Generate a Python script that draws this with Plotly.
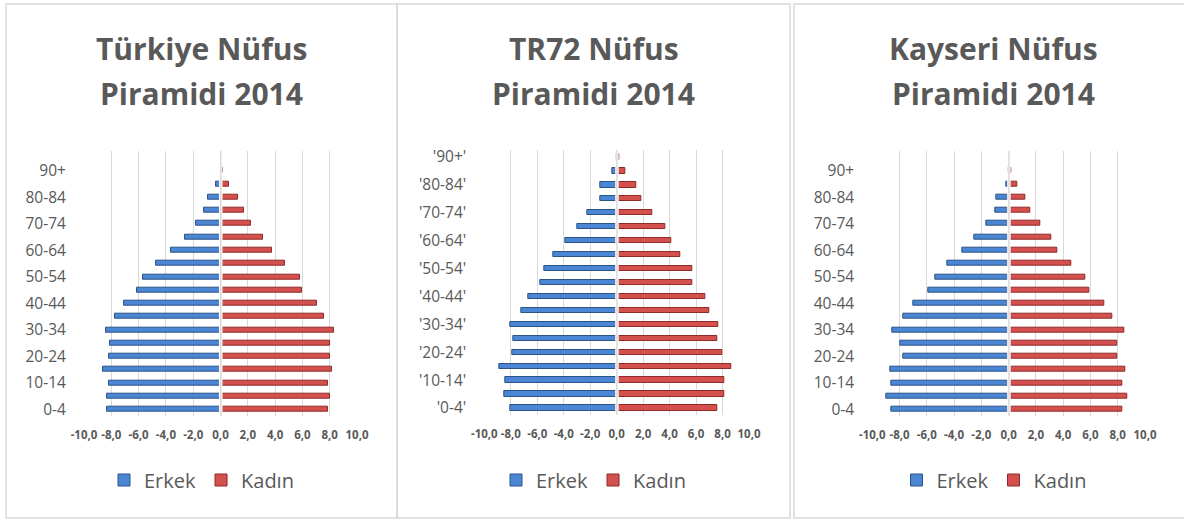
import plotly.graph_objects as go

W, H = 1184, 519

age_groups = ["0-4", "5-9", "10-14", "15-19", "20-24", "25-29", "30-34", "35-39",
              "40-44", "45-49", "50-54", "55-59", "60-64", "65-69", "70-74",
              "75-79", "80-84", "85-89", "90+"]
age_groups_q = ["'" + a + "'" for a in age_groups]

title_line1 = ["Türkiye Nüfus", "TR72 Nüfus", "Kayseri Nüfus"]
title_line2 = ["Piramidi 2014", "Piramidi 2014", "Piramidi 2014"]

# Values (% of population), ordered 0-4 ... 90+
tr_erkek = [-8.3, -8.3, -8.2, -8.6, -8.2, -8.1, -8.4, -7.7, -7.1, -6.1, -5.7, -4.7, -3.6, -2.6, -1.8, -1.2, -0.9, -0.3, -0.05]
tr_kadin = [7.9, 8.0, 7.9, 8.2, 8.0, 8.0, 8.3, 7.6, 7.1, 6.0, 5.8, 4.7, 3.8, 3.1, 2.2, 1.7, 1.3, 0.65, 0.2]
tr72_erkek = [-8.0, -8.5, -8.4, -8.9, -7.9, -7.8, -8.0, -7.2, -6.7, -5.8, -5.5, -4.8, -3.9, -3.0, -2.2, -1.2, -1.2, -0.3, -0.05]
tr72_kadin = [7.6, 8.1, 8.1, 8.7, 8.0, 7.6, 7.7, 7.0, 6.7, 5.7, 5.7, 4.8, 4.1, 3.65, 2.7, 1.85, 1.45, 0.65, 0.2]
kay_erkek = [-8.6, -9.0, -8.6, -8.7, -7.7, -7.95, -8.5, -7.7, -7.0, -5.9, -5.4, -4.5, -3.4, -2.5, -1.65, -0.95, -0.9, -0.2, -0.05]
kay_kadin = [8.3, 8.7, 8.35, 8.55, 8.0, 8.0, 8.45, 7.6, 7.05, 5.9, 5.6, 4.6, 3.6, 3.1, 2.3, 1.6, 1.25, 0.6, 0.2]

x_ticks = [-10, -8, -6, -4, -2, 0, 2, 4, 6, 8, 10]
x_ticktext = [f"{v:.1f}".replace(".", ",") for v in x_ticks]

panels = [
    dict(erkek=tr_erkek, kadin=tr_kadin, labels=age_groups, slots=20,
         box=(6, 397), plot_x=(84, 357), plot_y=(150.7, 416)),
    dict(erkek=tr72_erkek, kadin=tr72_kadin, labels=age_groups_q, slots=19,
         box=(397, 790), plot_x=(484.3, 749), plot_y=(150, 415)),
    dict(erkek=kay_erkek, kadin=kay_kadin, labels=age_groups, slots=20,
         box=(794, 1194), plot_x=(872.3, 1145), plot_y=(150.7, 416)),
]

GRAY_TXT = "#595959"
GRID = "#d9d9d9"
FONT = "Open Sans"

fig = go.Figure()
shapes = []
annotations = []
layout_extra = {}

for i, p in enumerate(panels):
    n = i + 1
    xa = "x" if n == 1 else f"x{n}"
    ya = "y" if n == 1 else f"y{n}"
    leg = "legend" if n == 1 else f"legend{n}"
    ypos = list(range(len(age_groups)))
    fig.add_trace(go.Bar(
        x=p["erkek"], y=ypos, orientation="h", name="Erkek",
        marker=dict(color="#4a86d4", line=dict(color="#2c5286", width=1)),
        width=0.38, xaxis=xa, yaxis=ya, legend=leg, showlegend=True,
        hoverinfo="skip"))
    fig.add_trace(go.Bar(
        x=p["kadin"], y=ypos, orientation="h", name="Kadın",
        marker=dict(color="#d4504d", line=dict(color="#8e2a28", width=1)),
        width=0.38, xaxis=xa, yaxis=ya, legend=leg, showlegend=True,
        hoverinfo="skip"))

    x0, x1 = p["plot_x"]
    yt, yb = p["plot_y"]
    layout_extra["xaxis" if n == 1 else f"xaxis{n}"] = dict(
        domain=[x0 / W, x1 / W], range=[-10, 10], anchor=ya,
        tickvals=x_ticks, ticktext=x_ticktext,
        showgrid=True, gridcolor=GRID, gridwidth=1, zeroline=False,
        showline=False, ticks="outside", ticklen=8, tickcolor="rgba(0,0,0,0)",
        tickfont=dict(family=FONT, size=11.5, color=GRAY_TXT, weight="bold"),
        automargin=False, fixedrange=True)
    layout_extra["yaxis" if n == 1 else f"yaxis{n}"] = dict(
        domain=[1 - yb / H, 1 - yt / H], range=[-0.5, p["slots"] - 0.5],
        anchor=xa, tickvals=ypos[::2], ticktext=p["labels"][::2],
        showgrid=False, zeroline=False, showline=False,
        ticks="outside", ticklen=14, tickcolor="rgba(0,0,0,0)",
        tickfont=dict(family=FONT, size=15.5, color=GRAY_TXT),
        automargin=False, fixedrange=True)

    # zero line drawn over bars (gap look)
    shapes.append(dict(type="line", xref=xa, yref="paper", x0=0.02, x1=0.02,
                       y0=1 - yb / H, y1=1 - yt / H,
                       line=dict(color="white", width=3.5), layer="above"))
    shapes.append(dict(type="line", xref=xa, yref="paper", x0=0.02, x1=0.02,
                       y0=1 - yb / H, y1=1 - yt / H,
                       line=dict(color=GRID, width=1.5), layer="above"))

    bx0, bx1 = p["box"]
    shapes.append(dict(type="rect", xref="paper", yref="paper",
                       x0=bx0 / W, x1=bx1 / W, y0=1 - 518 / H, y1=1 - 4 / H,
                       line=dict(color=GRID, width=1.5), fillcolor="rgba(0,0,0,0)",
                       layer="below"))
    cx = (bx0 + bx1) / 2
    for txt, ty in ((title_line1[i], 49), (title_line2[i], 94)):
        annotations.append(dict(text=txt, xref="paper", yref="paper",
                                x=cx / W, y=1 - ty / H, xanchor="center", yanchor="middle",
                                showarrow=False, align="center",
                                font=dict(family=FONT, size=30, color=GRAY_TXT, weight="bold")))
    layout_extra[leg] = dict(
        orientation="h", x=cx / W, y=1 - 480 / H, xanchor="center", yanchor="middle",
        font=dict(family=FONT, size=20, color=GRAY_TXT),
        bgcolor="rgba(0,0,0,0)", itemclick=False, itemdoubleclick=False,
        traceorder="normal")

fig.update_layout(
    width=W, height=H, margin=dict(l=0, r=0, t=0, b=0, autoexpand=False),
    paper_bgcolor="white", plot_bgcolor="white",
    barmode="relative", bargap=0,
    shapes=shapes, annotations=annotations,
    **layout_extra,
)

fig.write_html("out.html", config={"displayModeBar": False},
               post_script="document.body.style.margin='0';document.documentElement.style.overflow='hidden';")
